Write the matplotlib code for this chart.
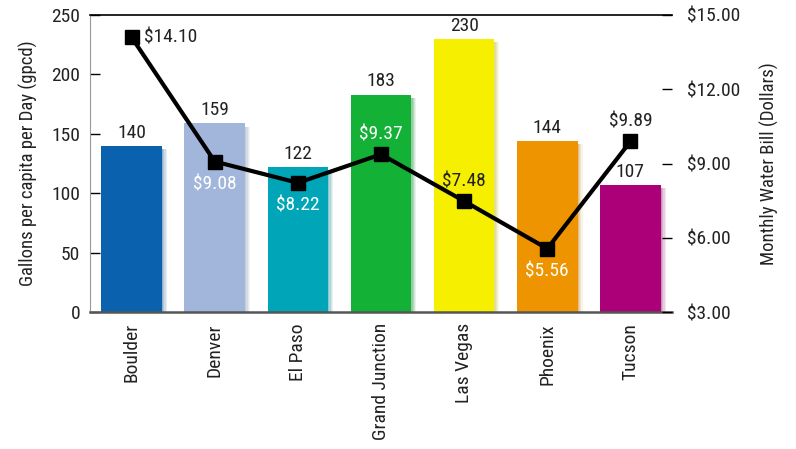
import matplotlib
matplotlib.use("Agg")
import matplotlib.pyplot as plt
import numpy as np

plt.rcParams["font.family"] = ["Roboto Condensed", "DejaVu Sans"]

cities = ["Boulder", "Denver", "El Paso", "Grand Junction", "Las Vegas", "Phoenix", "Tucson"]
gpcd = [140, 159, 122, 183, 230, 144, 107]
bill = [14.10, 9.08, 8.22, 9.37, 7.48, 5.56, 9.89]
bar_colors = ["#0a62ae", "#a2b5db", "#00a5b7", "#13b135", "#f6f000", "#ee9400", "#ab0078"]
# where each bill label sits relative to its marker, and its colour
bill_pos = ["right", "below", "below", "above", "above", "below", "above"]
bill_color = ["#222222", "white", "white", "white", "#222222", "white", "#222222"]

fig = plt.figure(figsize=(7.96, 4.49), dpi=100)
ax = fig.add_axes([0.1131, 0.3051, 0.7311, 0.6615])
ax2 = ax.twinx()

x = np.arange(len(cities))
width = 0.73

# soft drop shadow behind each bar
for dx, a in [(0.06, 0.07), (0.045, 0.09), (0.03, 0.12), (0.015, 0.15)]:
    ax.bar(x + dx, np.array(gpcd) - 1.5, width=width, bottom=-1.5,
           color=bar_colors, alpha=a, zorder=1, linewidth=0)
    ax.bar(x + dx, np.array(gpcd) - 1.5, width=width, bottom=-1.5,
           color="#555555", alpha=a * 0.4, zorder=1, linewidth=0)
ax.bar(x, gpcd, width=width, color=bar_colors, zorder=2, linewidth=0)

for xi, v in zip(x, gpcd):
    ax.annotate(str(v), (xi, v), xytext=(0, 3), textcoords="offset points",
                ha="center", va="bottom", fontsize=14, color="#222222")

ax.set_xlim(-0.5, len(cities) - 0.5)
ax.set_ylim(0, 250)
ax.set_yticks(range(0, 251, 50))
ax.set_xticks(x)
ax.set_xticklabels(cities, rotation=90, fontsize=14, color="#222222")
ax.tick_params(axis="y", direction="in", length=7, width=1, labelsize=14,
               labelcolor="#222222", pad=7)
ax.tick_params(axis="x", length=0, pad=8)
ax.set_ylabel("Gallons per capita per Day (gpcd)", fontsize=13.5, color="#222222", labelpad=10)

ax.spines["left"].set_color("#999999")
ax.spines["right"].set_visible(False)
ax.spines["top"].set_color("black")
ax.spines["top"].set_linewidth(1.2)
ax.spines["bottom"].set_color("#555555")
ax.spines["bottom"].set_linewidth(1.8)

ax2.plot(x, bill, color="black", linewidth=3, marker="s", markersize=10,
         zorder=5)
ax2.set_ylim(3, 15)
ax2.set_yticks([3, 6, 9, 12, 15])
ax2.set_yticklabels([f"${t:.2f}" for t in [3, 6, 9, 12, 15]])
ax2.tick_params(axis="y", direction="in", length=7, width=1, labelsize=14,
                labelcolor="#222222", pad=11)
ax2.set_ylabel("Monthly Water Bill (Dollars)", fontsize=13.5, color="#222222", labelpad=14)
for s in ax2.spines.values():
    s.set_visible(False)

offsets = {"right": ((9, 0), "left", "center"),
           "below": ((0, -10), "center", "top"),
           "above": ((0, 8), "center", "bottom")}
for xi, v, pos, c in zip(x, bill, bill_pos, bill_color):
    off, ha, va = offsets[pos]
    ax2.annotate(f"${v:.2f}", (xi, v), xytext=off, textcoords="offset points",
                 ha=ha, va=va, fontsize=14, color=c, zorder=6)

fig.savefig("out.png", dpi=100)
